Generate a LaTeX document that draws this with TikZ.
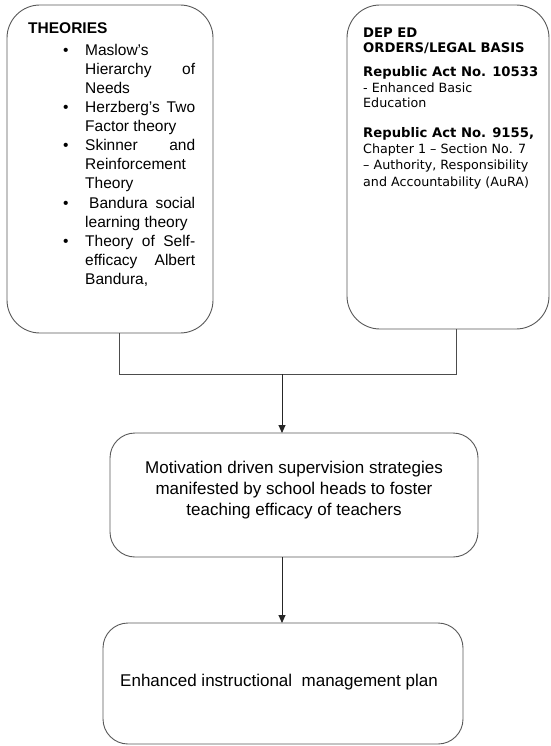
\documentclass[tikz,border=0pt]{standalone}
\usepackage{fontspec}
\setmainfont{Liberation Sans}
\newfontfamily\tahoma{DejaVu Sans}
\usetikzlibrary{arrows.meta}
\begin{document}
\begin{tikzpicture}[x=1pt,y=-1pt,
  box/.style={draw=black!65, line width=0.9pt, inner sep=0pt, outer sep=0pt},
  conn/.style={draw=black!70, line width=0.9pt},
  arr/.style={draw=black!85, line width=0.9pt, -{Triangle[length=8pt,width=7pt]}},
  lt/.style={anchor=base west, inner sep=0pt, font=\fontsize{15.5}{19}\selectfont},
  lh/.style={anchor=base west, inner sep=0pt, font=\bfseries\fontsize{15.5}{19}\selectfont},
  rt/.style={anchor=base west, inner sep=0pt, font=\tahoma\fontsize{12.7}{15}\selectfont},
  rb/.style={anchor=base west, inner sep=0pt, font=\tahoma\bfseries\fontsize{13.2}{15}\selectfont},
  ct/.style={align=center, inner sep=0pt, font=\fontsize{17}{21}\selectfont}]
\useasboundingbox (0,0) rectangle (550,746);
\fill[white] (0,0) rectangle (550,746);

% boxes
\node[box, rounded corners=33pt, minimum width=206pt, minimum height=328pt] (theo) at (110,169) {};
\node[box, rounded corners=33pt, minimum width=202pt, minimum height=324pt] (law) at (448,167) {};
\node[box, rounded corners=25pt, minimum width=368pt, minimum height=124pt] (mot) at (294,495) {};
\node[box, rounded corners=25pt, minimum width=360pt, minimum height=121pt] (plan) at (283,683.5) {};

% left box text
\node[lh] (th) at (28,34) {THEORIES};
\node[lt] (b1) at (63,56) {\textbullet};
\node[lt] (t1) at (85,56) {Maslow’s};
\node[lt] (t2) at (85,75) {\makebox[110pt][s]{Hierarchy of}};
\node[lt] (t3) at (85,94) {Needs};
\node[lt] (b2) at (63,113) {\textbullet};
\node[lt] (t4) at (85,113) {\makebox[110pt][s]{Herzberg’s Two}};
\node[lt] (t5) at (85,132) {Factor theory};
\node[lt] (b3) at (63,151) {\textbullet};
\node[lt] (t6) at (85,151) {\makebox[110pt][s]{Skinner and}};
\node[lt] (t7) at (85,170) {Reinforcement};
\node[lt] (t8) at (85,189) {Theory};
\node[lt] (b4) at (63,208) {\textbullet};
\node[lt] (t9) at (89,208) {\makebox[106pt][s]{Bandura social}};
\node[lt] (t10) at (85,227) {learning theory};
\node[lt] (b5) at (63,246) {\textbullet};
\node[lt] (t11) at (85,246) {\makebox[110pt][s]{Theory of Self-}};
\node[lt] (t12) at (85,265) {\makebox[110pt][s]{efficacy Albert}};
\node[lt] (t13) at (85,284) {Bandura,};

% right box text
\node[rb] (r1) at (363,38) {DEP ED};
\node[rb] (r2) at (363,53) {ORDERS/LEGAL BASIS};
\node[rb] (r3) at (363,77) {Republic Act No. 10533};
\node[rt] (r4) at (363,93) {- Enhanced Basic};
\node[rt] (r5) at (363,108) {Education};
\node[rb] (r6) at (363,138) {Republic Act No. 9155,};
\node[rt] (r7) at (363,154) {Chapter 1 – Section No. 7};
\node[rt] (r8) at (363,170) {– Authority, Responsibility};
\node[rt] (r9) at (363,186) {and Accountability (AuRA)};

% middle and bottom text
\node[ct] (mtext) at (294,490) {Motivation driven supervision strategies\\manifested by school heads to foster\\teaching efficacy of teachers};
\node[ct, anchor=base] (ptext) at (279,686) {Enhanced instructional\ \ management plan};

% connectors
\coordinate (jl) at (119,374);
\coordinate (jr) at (456,374);
\coordinate (jm) at (282,374);
\draw[conn] (theo.south -| jl) -- (jl) -- (jr) -- (law.south -| jr);
\draw[arr] (jm) -- (mot.north -| jm);
\draw[arr] (mot.south -| jm) -- (plan.north -| jm);
\end{tikzpicture}
\end{document}
